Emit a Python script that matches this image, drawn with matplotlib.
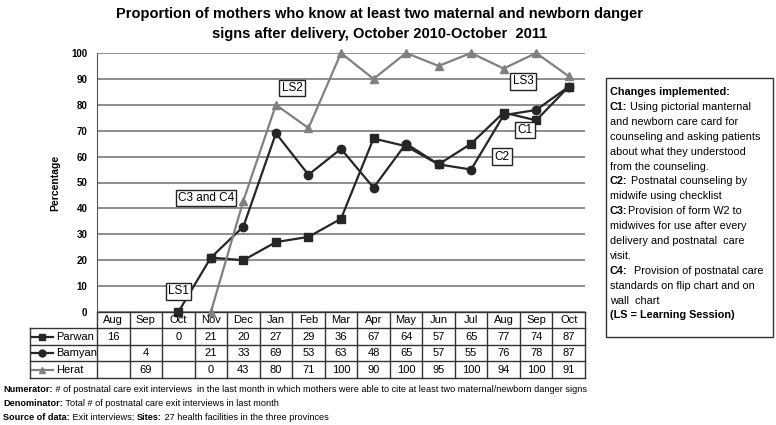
import numpy as np
import matplotlib
matplotlib.use('Agg')
import matplotlib.pyplot as plt
from matplotlib.lines import Line2D
from matplotlib.patches import Rectangle
from matplotlib.transforms import blended_transform_factory

plt.rcParams['font.family'] = ['Liberation Sans', 'DejaVu Sans']

# --- data ---
months = ['Aug', 'Sep', 'Oct', 'Nov', 'Dec', 'Jan', 'Feb', 'Mar', 'Apr', 'May', 'Jun', 'Jul', 'Aug', 'Sep', 'Oct']
parwan = [16, None, 0, 21, 20, 27, 29, 36, 67, 64, 57, 65, 77, 74, 87]
bamyan = [None, 4, None, 21, 33, 69, 53, 63, 48, 65, 57, 55, 76, 78, 87]
herat = [None, 69, None, 0, 43, 80, 71, 100, 90, 100, 95, 100, 94, 100, 91]
plot_from = 2  # lines start in Oct 2010, Aug/Sep only shown in the table

series = [('Parwan', parwan, 's', '#262626'),
          ('Bamyan', bamyan, 'o', '#262626'),
          ('Herat', herat, '^', '#808080')]

callouts = [('LS1', 2.0, 8), ('C3 and C4', 2.85, 44), ('LS2', 5.5, 86.5),
            ('LS3', 12.6, 89), ('C1', 12.65, 70.3), ('C2', 11.95, 60)]

title = ('Proportion of mothers who know at least two maternal and newborn danger\n'
         'signs after delivery, October 2010-October  2011')

box_lines = [
    [('Changes implemented:', True)],
    [('C1:', True), (' Using pictorial manternal', False)],
    [('and newborn care card for', False)],
    [('counseling and asking patients', False)],
    [('about what they understood', False)],
    [('from the counseling.', False)],
    [('C2:', True), (' Postnatal counseling by', False)],
    [('midwife using checklist', False)],
    [('C3:', True), ('Provision of form W2 to', False)],
    [('midwives for use after every', False)],
    [('delivery and postnatal  care', False)],
    [('visit.', False)],
    [('C4:', True), ('  Provision of postnatal care', False)],
    [('standards on flip chart and on', False)],
    [('wall  chart', False)],
    [('(LS = Learning Session)', True)],
]

foot_lines = [
    [('Numerator:', True), (' # of postnatal care exit interviews  in the last month in which mothers were able to cite at least two maternal/newborn danger signs', False)],
    [('Denominator:', True), (' Total # of postnatal care exit interviews in last month', False)],
    [('Source of data:', True), (' Exit interviews; ', False), ('Sites:', True), (' 27 health facilities in the three provinces', False)],
]

W, H = 776, 425
fig = plt.figure(figsize=(W / 100, H / 100), dpi=100)
ax = fig.add_axes([97 / W, 1 - 312 / H, (585 - 97) / W, (312 - 53) / H])


def fx(px):
    return px / W


def fy(py):
    return 1 - py / H


# --- lines ---
for name, vals, mk, col in series:
    x = np.arange(plot_from, len(months))
    y = np.array([np.nan if v is None else v for v in vals[plot_from:]], dtype=float)
    m = ~np.isnan(y)
    ax.plot(x[m], y[m], color=col, lw=1.6, marker=mk, ms=6,
            mfc=col, mec=col, zorder=3, clip_on=False)

for txt, x, y in callouts:
    ax.text(x, y, txt, ha='center', va='center', fontsize=8.5,
            bbox=dict(boxstyle='square,pad=0.2', fc='white', ec='#222222', lw=1), zorder=5)

ax.set_xlim(-0.5, len(months) - 0.5)
ax.set_ylim(0, 100)
ax.set_yticks(range(0, 101, 10))
ax.set_yticklabels([str(v) for v in range(0, 101, 10)], fontsize=7, fontweight='bold')
ax.tick_params(axis='y', length=0, pad=7)
ax.set_xticks([])
ax.yaxis.grid(True, color='#7a7a7a', lw=1.2)
ax.set_axisbelow(True)
for s in ['top', 'right', 'bottom']:
    ax.spines[s].set_visible(False)
ax.spines['left'].set_color('#555555')
ax.set_ylabel('Percentage', fontsize=7.5, fontweight='bold', labelpad=8)

# --- data table under the axis ---
tr = blended_transform_factory(ax.transData, ax.transAxes)
row_h = 0.0637
n = len(months)
lab_left = -2.56
lc = '#333333'
kw = dict(transform=tr, color=lc, lw=1, clip_on=False)
ax.add_line(Line2D([-0.5, n - 0.5], [0, 0], **kw))
for k in range(1, 5):
    ax.add_line(Line2D([lab_left, n - 0.5], [-k * row_h, -k * row_h], **kw))
for i in range(n + 1):
    ax.add_line(Line2D([i - 0.5, i - 0.5], [0, -4 * row_h], **kw))
ax.add_line(Line2D([lab_left, lab_left], [-row_h, -4 * row_h], **kw))

for i, mth in enumerate(months):
    ax.text(i, -0.5 * row_h, mth, transform=tr, ha='center', va='center', fontsize=8)
for r, (name, vals, mk, col) in enumerate(series):
    yc = -(r + 1.5) * row_h
    ax.add_line(Line2D([lab_left + 0.06, lab_left + 0.7], [yc, yc], transform=tr, color=col,
                       lw=1.6, clip_on=False))
    ax.add_line(Line2D([lab_left + 0.38], [yc], transform=tr, marker=mk, ms=5, color=col,
                       clip_on=False, ls='none'))
    ax.text(lab_left + 0.8, yc, name, transform=tr, ha='left', va='center', fontsize=8)
    for i, v in enumerate(vals):
        if v is not None:
            ax.text(i, yc, str(v), transform=tr, ha='center', va='center', fontsize=8)

# --- title ---
fig.text(fx(380), fy(24), title, ha='center', va='center', fontsize=10.5, fontweight='bold',
         linespacing=1.55)

# --- mixed-weight text lines ---
renderer = fig.canvas.get_renderer()


def put_line(x, y, segments, size):
    for s, bold in segments:
        t = fig.text(x, y, s, fontsize=size, fontweight='bold' if bold else 'normal',
                     ha='left', va='center')
        x += t.get_window_extent(renderer=renderer).width / fig.bbox.width


fig.add_artist(Rectangle((fx(606), fy(337)), fx(773 - 606), (337 - 78) / H, transform=fig.transFigure,
                         fill=False, ec='#333333', lw=1))
for j, segs in enumerate(box_lines):
    put_line(fx(610), fy(92 + j * 14.9), segs, 7.8)

for j, segs in enumerate(foot_lines):
    put_line(fx(3), fy(390 + j * 13.7), segs, 6.6)

fig.savefig('out.png', dpi=100)
